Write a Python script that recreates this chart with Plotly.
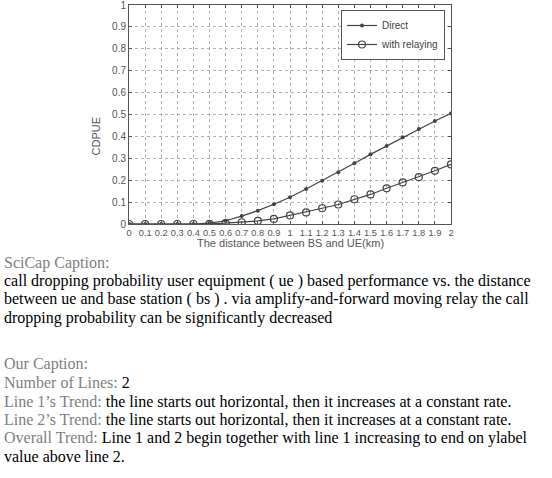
import plotly.graph_objects as go

# distance between BS and UE (km), 0 to 2 step 0.1
distance = [0, 0.1, 0.2, 0.3, 0.4, 0.5, 0.6, 0.7, 0.8, 0.9, 1.0,
            1.1, 1.2, 1.3, 1.4, 1.5, 1.6, 1.7, 1.8, 1.9, 2.0]

# call dropping probability
direct = [0, 0, 0, 0, 0, 0.004, 0.015, 0.036, 0.061, 0.09, 0.122,
          0.16, 0.198, 0.236, 0.277, 0.318, 0.356, 0.396, 0.434, 0.47, 0.505]
relaying = [0, 0, 0, 0, 0, 0.001, 0.004, 0.008, 0.014, 0.023, 0.039,
            0.053, 0.072, 0.089, 0.113, 0.135, 0.163, 0.19, 0.214, 0.243, 0.272]

x_ticks = [round(0.1 * i, 1) for i in range(21)]
x_labels = ["0", "0.1", "0.2", "0.3", "0.4", "0.5", "0.6", "0.7", "0.8", "0.9", "1",
            "1.1", "1.2", "1.3", "1.4", "1.5", "1.6", "1.7", "1.8", "1.9", "2"]
y_ticks = [round(0.1 * i, 1) for i in range(11)]
y_labels = ["0", "0.1", "0.2", "0.3", "0.4", "0.5", "0.6", "0.7", "0.8", "0.9", "1"]

# caption lines
scicap_lines = [
    "call dropping probability user equipment ( ue ) based performance vs. the distance",
    "between ue and base station ( bs ) . via amplify-and-forward moving relay the call",
    "dropping probability can be significantly decreased",
]
our_lines = [
    ("Number of Lines: ", "2"),
    ("Line 1\u2019s Trend: ", "the line starts out horizontal, then it increases at a constant rate."),
    ("Line 2\u2019s Trend: ", "the line starts out horizontal, then it increases at a constant rate."),
    ("Overall Trend: ", "Line 1 and 2 begin together with line 1 increasing to end on ylabel"),
    ("", "value above line 2."),
]

W, H = 552, 478
line_col = "#444444"

fig = go.Figure()
fig.add_trace(go.Scatter(x=distance, y=direct, mode="lines+markers", name="Direct",
                         line=dict(color=line_col, width=1.2),
                         marker=dict(symbol="circle", size=4, color=line_col)))
fig.add_trace(go.Scatter(x=distance, y=relaying, mode="lines+markers", name="with relaying",
                         line=dict(color=line_col, width=1.2),
                         marker=dict(symbol="circle-open", size=7, color=line_col,
                                     line=dict(width=1.2))))

axis_common = dict(showline=True, linecolor="#555555", linewidth=1, mirror="ticks",
                   ticks="inside", ticklen=3, tickcolor="#555555",
                   showgrid=True, gridcolor="#b0b0b0", griddash="dot", gridwidth=1,
                   zeroline=False, automargin=False, ticklabeloverflow="allow")

fig.update_xaxes(range=[0, 2], tickvals=x_ticks, ticktext=x_labels, tickangle=0,
                 tickfont=dict(family="Arial", size=9.3, color="#555555"),
                 domain=[129 / W, 451 / W], anchor="y", **axis_common)
fig.update_yaxes(range=[0, 1], tickvals=y_ticks, ticktext=y_labels,
                 tickfont=dict(family="Arial", size=10, color="#555555"),
                 domain=[1 - 224 / H, 1 - 5 / H], anchor="x", **axis_common)

ann = []
# axis titles
ann.append(dict(text="The distance between BS and UE(km)", x=290 / W, y=1 - 243 / H,
                xref="paper", yref="paper", showarrow=False,
                font=dict(family="Arial", size=11, color="#555555")))
ann.append(dict(text="CDPUE", x=95 / W, y=1 - 115 / H, textangle=-90,
                xref="paper", yref="paper", xanchor="center", showarrow=False,
                font=dict(family="Arial", size=11, color="#555555")))

cap_font = "Liberation Serif"
cap_size = 16
gray = "#808080"


def add_line(html, y_px):
    ann.append(dict(text=html, x=2 / W, y=1 - y_px / H, xref="paper", yref="paper",
                    xanchor="left", yanchor="middle", showarrow=False, align="left",
                    font=dict(family=cap_font, size=cap_size, color="black")))


add_line(f"<span style='color:{gray}'>SciCap Caption:</span>", 263)
for i, t in enumerate(scicap_lines):
    add_line(t, 281 + 18.3 * i)

add_line(f"<span style='color:{gray}'>Our Caption:</span>", 364)
for i, (lab, t) in enumerate(our_lines):
    add_line(f"<span style='color:{gray}'>{lab}</span>{t}", 382.5 + 18.6 * i)

fig.update_layout(
    width=W, height=H,
    margin=dict(l=0, r=0, t=0, b=0),
    plot_bgcolor="white", paper_bgcolor="white",
    annotations=ann,
    legend=dict(x=445 / W, y=1 - 10 / H, xref="paper", yref="paper",
                xanchor="right", yanchor="top",
                bordercolor="#555555", borderwidth=1, bgcolor="white",
                font=dict(family="Arial", size=10, color="#444444"),
                tracegroupgap=0, itemwidth=30),
)

# the page body has a default 8px margin; drop it so the figure sits at 0,0
fig.write_html("out.html", config={"displayModeBar": False},
               post_script="document.body.style.margin = '0';")
